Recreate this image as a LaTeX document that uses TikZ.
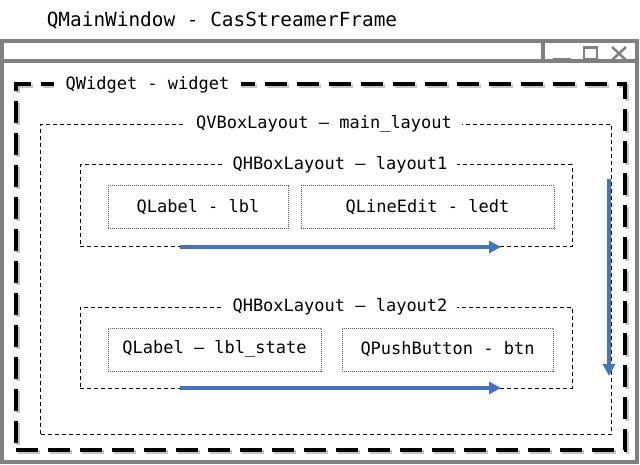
\documentclass[tikz,border=0pt]{standalone}
\usepackage{fontspec}
\setmonofont{DejaVu Sans Mono}
\usetikzlibrary{arrows.meta}
\definecolor{bcol}{RGB}{68,114,196}
\definecolor{gcol}{RGB}{128,128,128}
\tikzset{every picture/.style={x=1pt,y=-1pt}}
\tikzset{box/.style={rectangle,inner sep=0pt}}
\tikzset{frame/.style={draw=gcol,line width=4.5pt}}
\tikzset{wbox/.style={box,draw,line width=4pt,dash pattern=on 22pt off 10pt}}
\tikzset{wshade/.style={box,draw=black!45,line width=4pt,dash pattern=on 22pt off 10pt,opacity=.5}}
\tikzset{lbox/.style={box,draw,line width=1pt,dash pattern=on 4pt off 3pt}}
\tikzset{item/.style={box,draw=black!65,line width=1pt,dash pattern=on 1pt off 1pt,minimum height=43pt,font=\ttfamily\fontsize{17}{20}\selectfont}}
\tikzset{tag/.style={fill=white,inner xsep=10pt,inner ysep=2pt,font=\ttfamily\fontsize{17}{20}\selectfont}}
\tikzset{glyph/.style={draw=gcol,line width=2.5pt}}
\tikzset{flow/.style={draw=bcol,line width=4pt,-{Triangle[length=12pt,width=12pt]}}}
\begin{document}
\begin{tikzpicture}
\useasboundingbox (0,0) rectangle (640,465);

\node [font=\ttfamily\fontsize{19.4}{23}\selectfont] (title) at (222,20) {QMainWindow - CasStreamerFrame};

\node [box,frame,minimum width=635pt,minimum height=421pt] (window) at (319.5,251.5) {};
\draw [frame] ([yshift=-22.3pt]window.north west) -- ([yshift=-22.3pt]window.north east);
\draw [frame] ([xshift=-96.5pt]window.north east) -- ++(0,22.3);
\draw [glyph] (553,59.5) -- (571,59.5);
\draw [glyph] (584,47.5) rectangle (597,59);
\draw [glyph] (612,47) -- (626,60) (612,60) -- (626,47);

\node [wshade,minimum width=608.7pt,minimum height=365.8pt] (shade) at (322.3,269.4) {};
\node [wbox,minimum width=608.7pt,minimum height=365.8pt] (widget) at (320.3,267.4) {};
\node [tag,inner xsep=12pt] (widgettag) at (147.5,84.5) {QWidget - widget};

\node [lbox,minimum width=571pt,minimum height=309.7pt] (main) at (326,279.2) {};
\node [tag] (maintag) at (324,124.3) {QVBoxLayout – main\_layout};

\node [lbox,minimum width=492pt,minimum height=82pt] (layout1) at (326,206) {};
\node [tag] (layout1tag) at (340,165) {QHBoxLayout – layout1};
\node [item,minimum width=180pt] (lbl) at (198,207.5) {QLabel - lbl};
\node [item,minimum width=253pt] (ledt) at (427.5,207.5) {QLineEdit - ledt};

\node [lbox,minimum width=492pt,minimum height=81pt] (layout2) at (326,347.5) {};
\node [tag] (layout2tag) at (340,307) {QHBoxLayout – layout2};
\node [item,minimum width=213pt] (lblstate) at (214.5,349.5) {QLabel – lbl\_state};
\node [item,minimum width=211pt] (btn) at (447.5,349.5) {QPushButton - btn};

\coordinate (h1s) at (180,247);
\coordinate (h1e) at (501,247);
\coordinate (h2s) at (180,388);
\coordinate (h2e) at (501,388);
\coordinate (vs) at (609,179);
\coordinate (ve) at (609,376);

\draw [flow] (h1s) -- (h1e);
\draw [flow] (h2s) -- (h2e);
\draw [flow] (vs) -- (ve);
\end{tikzpicture}
\end{document}
